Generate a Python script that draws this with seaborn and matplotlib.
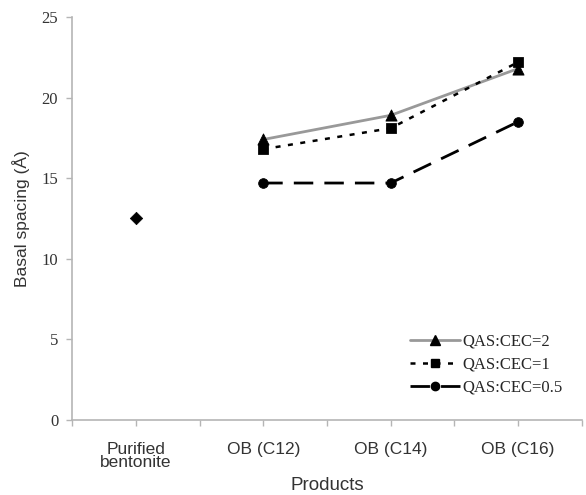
import numpy as np
import pandas as pd
import matplotlib
matplotlib.use("Agg")
import matplotlib.pyplot as plt
from matplotlib.lines import Line2D
import seaborn as sns

categories = ["Purified\nbentonite", "OB (C12)", "OB (C14)", "OB (C16)"]
bentonite = [12.5]
qas_2 = [17.4, 18.9, 21.8]
qas_1 = [16.8, 18.1, 22.2]
qas_05 = [14.7, 14.7, 18.5]
series_labels = ["QAS:CEC=2", "QAS:CEC=1", "QAS:CEC=0.5"]
yticks = [0, 5, 10, 15, 20, 25]

sns.set_theme(style="white")
plt.rcParams["font.family"] = ["Liberation Sans", "DejaVu Sans"]

fig = plt.figure(figsize=(5.86, 4.95), dpi=100)
ax = fig.add_axes([0.123, 0.1515, 0.870, 0.8142])

pos = np.arange(len(categories))

sns.scatterplot(x=pos[:1], y=bentonite, marker="D", s=40, color="black",
                edgecolor="black", ax=ax, zorder=4)

styles = [
    dict(color="#999999", linestyle="-", lw=2.0, marker="^", ms=8),
    dict(color="black", linestyle=(0, (2, 3)), lw=1.8, marker="s", ms=7),
    dict(color="black", linestyle=(0, (7, 4)), lw=2.0, marker="o", ms=7),
]
for vals, lab, st in zip([qas_2, qas_1, qas_05], series_labels, styles):
    sns.lineplot(x=pos[1:], y=vals, ax=ax, color=st["color"], linestyle=st["linestyle"],
                 lw=st["lw"], label=lab, zorder=3)
    sns.scatterplot(x=pos[1:], y=vals, ax=ax, marker=st["marker"], s=st["ms"] ** 2,
                    color="black", edgecolor="black", zorder=5)

ax.set_xlim(-0.5, 3.5)
ax.set_ylim(0, 25)
ax.set_xticks(pos)
ax.set_xticklabels(categories, fontsize=12.5, color="#333333", linespacing=0.85)
ax.set_xticks(np.arange(-0.5, 3.51, 0.5), minor=True)
ax.set_yticks(yticks)
ax.set_yticklabels([str(v) for v in yticks], family="Liberation Serif", fontsize=12,
                   color="#333333")
ax.tick_params(axis="y", which="major", length=4, color="#b5b5b5", left=True, width=1, pad=6)
ax.tick_params(axis="x", which="both", length=4, color="#b5b5b5", bottom=True, width=1)
ax.tick_params(axis="x", which="major", pad=12)

for s in ["top", "right"]:
    ax.spines[s].set_visible(False)
for s in ["left", "bottom"]:
    ax.spines[s].set_color("#b5b5b5")
    ax.spines[s].set_linewidth(1.2)

ax.set_xlabel("Products", fontsize=13.5, color="#333333", labelpad=5)
ax.set_ylabel("Basal spacing (Å)", fontsize=12.5, color="#333333", labelpad=8)

handles = [Line2D([], [], color=st["color"], linestyle=st["linestyle"], lw=st["lw"],
                  marker=st["marker"], ms=st["ms"] - 1, markerfacecolor="black",
                  markeredgecolor="black") for st in styles]
ax.legend(handles, series_labels, loc="upper left", bbox_to_anchor=(0.663, 0.215),
          frameon=False, prop={"family": "Liberation Serif", "size": 12},
          handlelength=3.0, handletextpad=0.15, labelspacing=0.42,
          borderpad=0, borderaxespad=0)

fig.savefig("out.png", dpi=100)
